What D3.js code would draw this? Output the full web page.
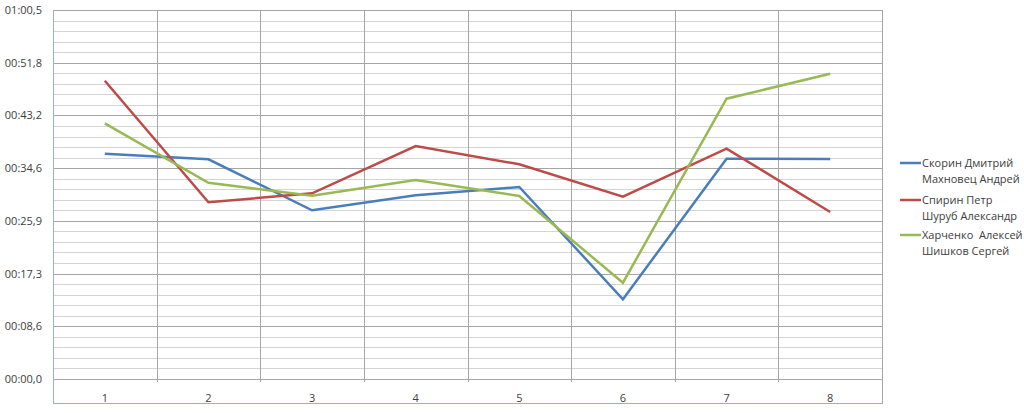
<!DOCTYPE html>
<html><head><meta charset="utf-8">
<script src="https://cdn.jsdelivr.net/npm/d3@7"></script>
<style>body{margin:0;background:#fff}svg{display:block}text{font-family:"Open Sans","Noto Sans",sans-serif;fill:#404040}</style>
</head><body><svg id="c" width="1024" height="413"></svg>
<script>
const categories = ["1","2","3","4","5","6","7","8"];
const seriesNames = [["Скорин Дмитрий","Махновец Андрей"],["Спирин Петр","Шуруб Александр"],["Харченко  Алексей","Шишков Сергей"]];
const seriesColors = ["#4A7EBB","#BE4B48","#98B954"];
// values in seconds
const skorin = [36.93, 36.01, 27.65, 30.11, 31.47, 13.06, 36.11, 36.06];
const spirin = [48.89, 28.96, 30.44, 38.19, 35.19, 29.88, 37.75, 27.37];
const kharchenko = [41.91, 32.17, 30.04, 32.62, 29.99, 15.78, 45.94, 50.04];
const yTicks = [0, 8.64, 17.28, 25.92, 34.56, 43.2, 51.84, 60.48];
const seriesValues = [skorin, spirin, kharchenko];

const svg = d3.select("#c");
const L = 53, R = 882, T = 10, B = 379, AX = 403;
const x = d3.scaleBand().domain(categories).range([L, R]);
const y = d3.scaleLinear().domain([0, 60.48]).range([B, T]);

function fmt(s){
  const m = Math.floor(s/60 + 1e-9);
  const sec = s - m*60;
  const r = Math.round(sec*10)/10;
  const ss = r.toFixed(1).padStart(4,"0").replace(".",",");
  return String(m).padStart(2,"0")+":"+ss;
}
// minor grid
const minor = [];
for (let i=0;i<yTicks.length-1;i++) for (let k=1;k<5;k++) minor.push(yTicks[i]+k*(yTicks[i+1]-yTicks[i])/5);
svg.append("g").selectAll("line").data(minor).join("line")
  .attr("x1",L).attr("x2",R).attr("y1",d=>Math.round(y(d))+0.5).attr("y2",d=>Math.round(y(d))+0.5)
  .attr("stroke","#d4d4d4").attr("stroke-width",1);
// vertical grid
const vb = categories.map(c=>x(c)).slice(1);
svg.append("g").selectAll("line").data(vb).join("line")
  .attr("x1",d=>Math.round(d)+0.5).attr("x2",d=>Math.round(d)+0.5).attr("y1",T).attr("y2",B+3)
  .attr("stroke","#a6a6a6");
// major grid
svg.append("g").selectAll("line").data(yTicks).join("line")
  .attr("x1",L).attr("x2",R).attr("y1",d=>Math.round(y(d))+0.5).attr("y2",d=>Math.round(y(d))+0.5)
  .attr("stroke","#a6a6a6");
// axes
svg.append("line").attr("x1",L+0.5).attr("x2",L+0.5).attr("y1",T).attr("y2",AX+1).attr("stroke","#9bb0c8");
svg.append("line").attr("x1",R+0.5).attr("x2",R+0.5).attr("y1",T).attr("y2",AX+1).attr("stroke","#a6a6a6");
svg.append("line").attr("x1",L).attr("x2",R).attr("y1",AX+0.5).attr("y2",AX+0.5).attr("stroke","#9bb0c8");
// y labels
svg.append("g").selectAll("text").data(yTicks).join("text")
  .attr("x",42).attr("y",d=>y(d)+4).attr("text-anchor","end").attr("font-size",11).text(fmt);
// x labels
svg.append("g").selectAll("text").data(categories).join("text")
  .attr("x",d=>x(d)+x.bandwidth()/2).attr("y",B+23).attr("text-anchor","middle").attr("font-size",11).text(d=>d);
// lines
const line = d3.line().x((d,i)=>x(categories[i])+x.bandwidth()/2).y(d=>y(d));
svg.append("g").selectAll("path").data(seriesValues).join("path")
  .attr("d",line).attr("fill","none").attr("stroke",(d,i)=>seriesColors[i]).attr("stroke-width",2.5).attr("stroke-linejoin","miter");
// legend
const lg = svg.append("g");
const ly = [163, 200, 235];
seriesNames.forEach((n,i)=>{
  lg.append("line").attr("x1",900).attr("x2",921).attr("y1",ly[i]).attr("y2",ly[i]).attr("stroke",seriesColors[i]).attr("stroke-width",2.5);
  const t = lg.append("text").attr("x",922).attr("y",ly[i]+4).attr("font-size",11).attr("xml:space","preserve");
  t.append("tspan").attr("x",922).text(n[0]);
  t.append("tspan").attr("x",922).attr("dy",16).text(n[1]);
});
</script></body></html>
